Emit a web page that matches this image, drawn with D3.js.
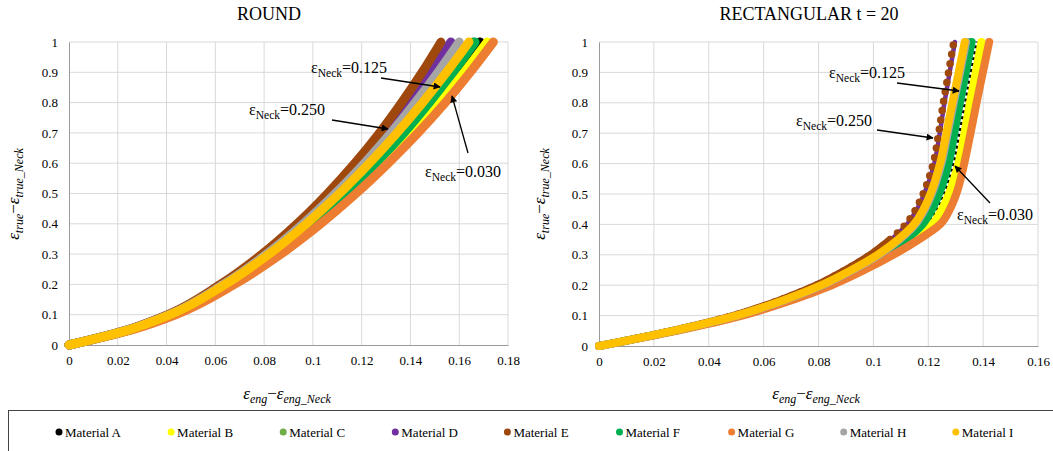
<!DOCTYPE html>
<html>
<head>
<meta charset="utf-8">
<script src="https://cdn.jsdelivr.net/npm/d3@7/dist/d3.min.js"></script>
<style>
  body { margin: 0; background: #ffffff; }
</style>
</head>
<body>
<svg id="chart" width="1053" height="451"></svg>
<script>
const SERIF = "Liberation Serif";

// ---- series names and colours ----
const materials = ["Material A", "Material B", "Material C", "Material D", "Material E",
                   "Material F", "Material G", "Material H", "Material I"];
const colors = ["#000000", "#FFFF00", "#70AD47", "#7030A0", "#9E480E",
                "#00B050", "#ED7D31", "#A5A5A5", "#FFC000"];

// ---- ROUND specimens: eng. strain after necking at each true-strain level ----
const roundTrue = [0, 0.05, 0.1, 0.2, 0.3, 0.4, 0.5, 0.6, 0.7, 0.8, 0.9, 1.0];
const roundA = [0, 0.0249, 0.0423, 0.0655, 0.0841, 0.1000, 0.1142, 0.1270, 0.1388, 0.1495, 0.1593, 0.1685];
const roundB = [0, 0.0251, 0.0426, 0.0661, 0.0850, 0.1011, 0.1155, 0.1286, 0.1407, 0.1518, 0.1620, 0.1715];
const roundC = [0, 0.0247, 0.0419, 0.0648, 0.0831, 0.0987, 0.1126, 0.1251, 0.1365, 0.1469, 0.1566, 0.1657];
const roundD = [0, 0.0242, 0.0409, 0.0628, 0.0802, 0.0949, 0.1078, 0.1194, 0.1299, 0.1395, 0.1484, 0.1566];
const roundE = [0, 0.0240, 0.0405, 0.0621, 0.0792, 0.0935, 0.1060, 0.1172, 0.1273, 0.1364, 0.1448, 0.1525];
const roundF = [0, 0.0248, 0.0421, 0.0651, 0.0835, 0.0992, 0.1132, 0.1258, 0.1373, 0.1477, 0.1574, 0.1665];
const roundG = [0, 0.0257, 0.0437, 0.0678, 0.0869, 0.1032, 0.1177, 0.1309, 0.1431, 0.1543, 0.1645, 0.1740];
const roundH = [0, 0.0243, 0.0411, 0.0633, 0.0810, 0.0960, 0.1092, 0.1211, 0.1320, 0.1420, 0.1513, 0.1600];
const roundI = [0, 0.0245, 0.0415, 0.0640, 0.0820, 0.0973, 0.1109, 0.1232, 0.1345, 0.1450, 0.1548, 0.1640];

// ---- RECTANGULAR t = 20 specimens ----
const rectTrue = [0, 0.05, 0.1, 0.15, 0.2, 0.25, 0.3, 0.35, 0.4, 0.45, 0.5, 0.6, 0.7, 0.8, 0.9, 1.0];
const rectA = [0, 0.0274, 0.0510, 0.0685, 0.0830, 0.0947, 0.1050, 0.1136, 0.1206, 0.1242, 0.1267, 0.1302, 0.1324, 0.1344, 0.1365, 0.1386];
const rectB = [0, 0.0278, 0.0515, 0.0691, 0.0837, 0.0954, 0.1057, 0.1143, 0.1214, 0.1250, 0.1275, 0.1310, 0.1332, 0.1352, 0.1373, 0.1394];
const rectC = [0, 0.0272, 0.0504, 0.0677, 0.0820, 0.0935, 0.1035, 0.1114, 0.1174, 0.1209, 0.1234, 0.1269, 0.1290, 0.1310, 0.1332, 0.1353];
const rectD = [0, 0.0267, 0.0492, 0.0659, 0.0795, 0.0901, 0.0992, 0.1064, 0.1122, 0.1159, 0.1185, 0.1222, 0.1242, 0.1259, 0.1278, 0.1297];
const rectE = [0, 0.0265, 0.0490, 0.0656, 0.0792, 0.0898, 0.0989, 0.1061, 0.1118, 0.1155, 0.1181, 0.1218, 0.1238, 0.1255, 0.1274, 0.1293];
const rectF = [0, 0.0274, 0.0508, 0.0682, 0.0825, 0.0940, 0.1040, 0.1119, 0.1179, 0.1214, 0.1239, 0.1274, 0.1295, 0.1315, 0.1337, 0.1358];
const rectG = [0, 0.0282, 0.0522, 0.0700, 0.0848, 0.0967, 0.1073, 0.1165, 0.1243, 0.1279, 0.1302, 0.1331, 0.1354, 0.1376, 0.1399, 0.1422];
const rectH = [0, 0.0272, 0.0503, 0.0674, 0.0815, 0.0925, 0.1020, 0.1095, 0.1153, 0.1188, 0.1213, 0.1248, 0.1271, 0.1293, 0.1316, 0.1338];
const rectI = [0, 0.0270, 0.0500, 0.0670, 0.0810, 0.0920, 0.1015, 0.1090, 0.1148, 0.1183, 0.1208, 0.1243, 0.1266, 0.1288, 0.1311, 0.1333];

// ---- tick labels ----
const roundXTicks = ["0", "0.02", "0.04", "0.06", "0.08", "0.1", "0.12", "0.14", "0.16", "0.18"];
const rectXTicks  = ["0", "0.02", "0.04", "0.06", "0.08", "0.1", "0.12", "0.14", "0.16"];
const yTicks      = ["0", "0.1", "0.2", "0.3", "0.4", "0.5", "0.6", "0.7", "0.8", "0.9", "1"];

const svg = d3.select("#chart");

function txt(sel) {
  return sel.attr("font-family", SERIF).attr("fill", "#000");
}

const defs = svg.append("defs");
defs.append("marker")
  .attr("id", "arrowHead")
  .attr("viewBox", "0 0 10 10")
  .attr("refX", 9).attr("refY", 5)
  .attr("markerWidth", 9).attr("markerHeight", 7)
  .attr("markerUnits", "userSpaceOnUse")
  .attr("orient", "auto")
  .append("path").attr("d", "M0,0 L10,5 L0,10 z").attr("fill", "#000");

// writes "ε" + subscript + optional tail, used for axis titles and callouts
function epsLabel(t, parts, size, subSize) {
  parts.forEach(p => {
    const s = t.append("tspan").text(p.text);
    if (p.sub) s.attr("dy", size * 0.25).attr("font-size", subSize);
    if (p.up) s.attr("dy", -size * 0.25);
    if (p.upright) s.attr("font-style", "normal");
  });
}

function drawPanel(cfg) {
  const x = d3.scaleLinear().domain(cfg.xDomain).range(cfg.xRange);
  const y = d3.scaleLinear().domain([0, 1]).range(cfg.yRange);
  const g = svg.append("g");
  const xVals = cfg.xTicks.map(Number);
  const yVals = yTicks.map(Number);

  // gridlines
  g.append("g").selectAll("line").data(xVals.slice(1)).join("line")
    .attr("x1", d => x(d)).attr("x2", d => x(d))
    .attr("y1", y(0)).attr("y2", y(1))
    .attr("stroke", "#d9d9d9").attr("stroke-width", 1);
  g.append("g").selectAll("line").data(yVals.slice(1)).join("line")
    .attr("x1", x(0)).attr("x2", x(cfg.xDomain[1]))
    .attr("y1", d => y(d)).attr("y2", d => y(d))
    .attr("stroke", "#d9d9d9").attr("stroke-width", 1);

  // axes
  const xAxis = g.append("g").attr("transform", `translate(0,${y(0)})`)
    .call(d3.axisBottom(x).tickValues(xVals).tickFormat((d, i) => cfg.xTicks[i]).tickSize(0).tickPadding(11));
  const yAxis = g.append("g").attr("transform", `translate(${x(0)},0)`)
    .call(d3.axisLeft(y).tickValues(yVals).tickFormat((d, i) => yTicks[i]).tickSize(0).tickPadding(11));
  [xAxis, yAxis].forEach(a => {
    a.attr("font-family", SERIF);
    a.select(".domain").attr("stroke", "#9a9a9a").attr("stroke-width", 1);
    txt(a.selectAll("text")).attr("font-size", 13);
  });

  // curves, first series at the back
  const line = d3.line().x(d => x(d[0])).y(d => y(d[1])).curve(d3.curveMonotoneY);
  const style = cfg.style || {};
  cfg.series.forEach((vals, i) => {
    const pts = vals.map((v, k) => [v, cfg.levels[k]]);
    const s = style[i] || {};
    // markers that overlap into a solid band in the flat lower part
    if (s.solidBelow !== undefined) {
      g.append("path").datum(pts.filter(p => p[1] <= s.solidBelow))
        .attr("d", line).attr("fill", "none")
        .attr("stroke", colors[i]).attr("stroke-width", s.width)
        .attr("stroke-linecap", "round").attr("stroke-linejoin", "round");
    }
    g.append("path").datum(pts)
      .attr("d", line)
      .attr("fill", "none")
      .attr("stroke", colors[i])
      .attr("stroke-width", s.width || cfg.width)
      .attr("stroke-dasharray", s.dash || null)
      .attr("stroke-linecap", s.cap || "round")
      .attr("stroke-linejoin", "round");
  });

  // title
  txt(svg.append("text")).attr("x", cfg.titleX).attr("y", 20)
    .attr("text-anchor", "middle").attr("font-size", 18).text(cfg.title);

  // x axis title
  const xt = txt(svg.append("text")).attr("x", cfg.xTitleX).attr("y", 399)
    .attr("text-anchor", "middle").attr("font-size", 17).attr("font-style", "italic");
  epsLabel(xt, [{ text: "ε" }, { text: "eng", sub: true }, { text: "−", up: true, upright: true },
                { text: "ε" }, { text: "eng_Neck", sub: true }], 17, 12);

  // y axis title
  const yt = txt(svg.append("text"))
    .attr("transform", `translate(${cfg.yTitleX},194) rotate(-90)`)
    .attr("text-anchor", "middle").attr("font-size", 17).attr("font-style", "italic");
  epsLabel(yt, [{ text: "ε" }, { text: "true", sub: true }, { text: "−", up: true, upright: true },
                { text: "ε" }, { text: "true_Neck", sub: true }], 17, 12);

  // neck-strain callouts
  cfg.notes.forEach(n => {
    const t = txt(svg.append("text")).attr("x", n.tx).attr("y", n.ty).attr("font-size", 16);
    epsLabel(t, [{ text: "ε" }, { text: "Neck", sub: true }, { text: "=" + n.label, up: true }], 16, 11.5);
    svg.append("line")
      .attr("x1", n.from[0]).attr("y1", n.from[1])
      .attr("x2", n.to[0]).attr("y2", n.to[1])
      .attr("stroke", "#000").attr("stroke-width", 1.3)
      .attr("marker-end", "url(#arrowHead)");
  });
}

drawPanel({
  title: "ROUND", titleX: 269,
  xDomain: [0, 0.18], xRange: [69, 508], yRange: [345, 42],
  xTicks: roundXTicks, levels: roundTrue, width: 9,
  series: [roundA, roundB, roundC, roundD, roundE, roundF, roundG, roundH, roundI],
  xTitleX: 287, yTitleX: 19,
  notes: [
    { label: "0.125", tx: 311, ty: 73, from: [381, 78], to: [440, 87] },
    { label: "0.250", tx: 249, ty: 115, from: [332, 120], to: [388, 129] },
    { label: "0.030", tx: 425, ty: 177, from: [468, 153], to: [452, 96] }
  ]
});

drawPanel({
  title: "RECTANGULAR t = 20", titleX: 809,
  xDomain: [0, 0.16], xRange: [599, 1038], yRange: [346, 42],
  xTicks: rectXTicks, levels: rectTrue, width: 8,
  style: {
    0: { width: 8, dash: "3 3", cap: "butt" },
    3: { width: 4.5 },
    4: { width: 7.5, dash: "0 9.5", solidBelow: 0.35 }
  },
  series: [rectA, rectB, rectC, rectD, rectE, rectF, rectG, rectH, rectI],
  xTitleX: 816, yTitleX: 545,
  notes: [
    { label: "0.125", tx: 829, ty: 78, from: [897, 83], to: [959, 91] },
    { label: "0.250", tx: 796, ty: 126, from: [877, 130], to: [933, 138] },
    { label: "0.030", tx: 957, ty: 220, from: [990, 203], to: [955, 166] }
  ]
});

// ---- legend ----
const legend = svg.append("g");
legend.append("rect").attr("x", 8.5).attr("y", 410.5).attr("width", 1100).attr("height", 60)
  .attr("fill", "none").attr("stroke", "#444").attr("stroke-width", 1);
const item = legend.selectAll("g").data(materials).join("g")
  .attr("transform", (d, i) => `translate(${59 + i * 112.1},432)`);
item.append("circle").attr("r", 3.5).attr("fill", (d, i) => colors[i]);
txt(item.append("text")).attr("x", 6).attr("y", 4.5).attr("font-size", 13).text(d => d);
</script>
</body>
</html>
